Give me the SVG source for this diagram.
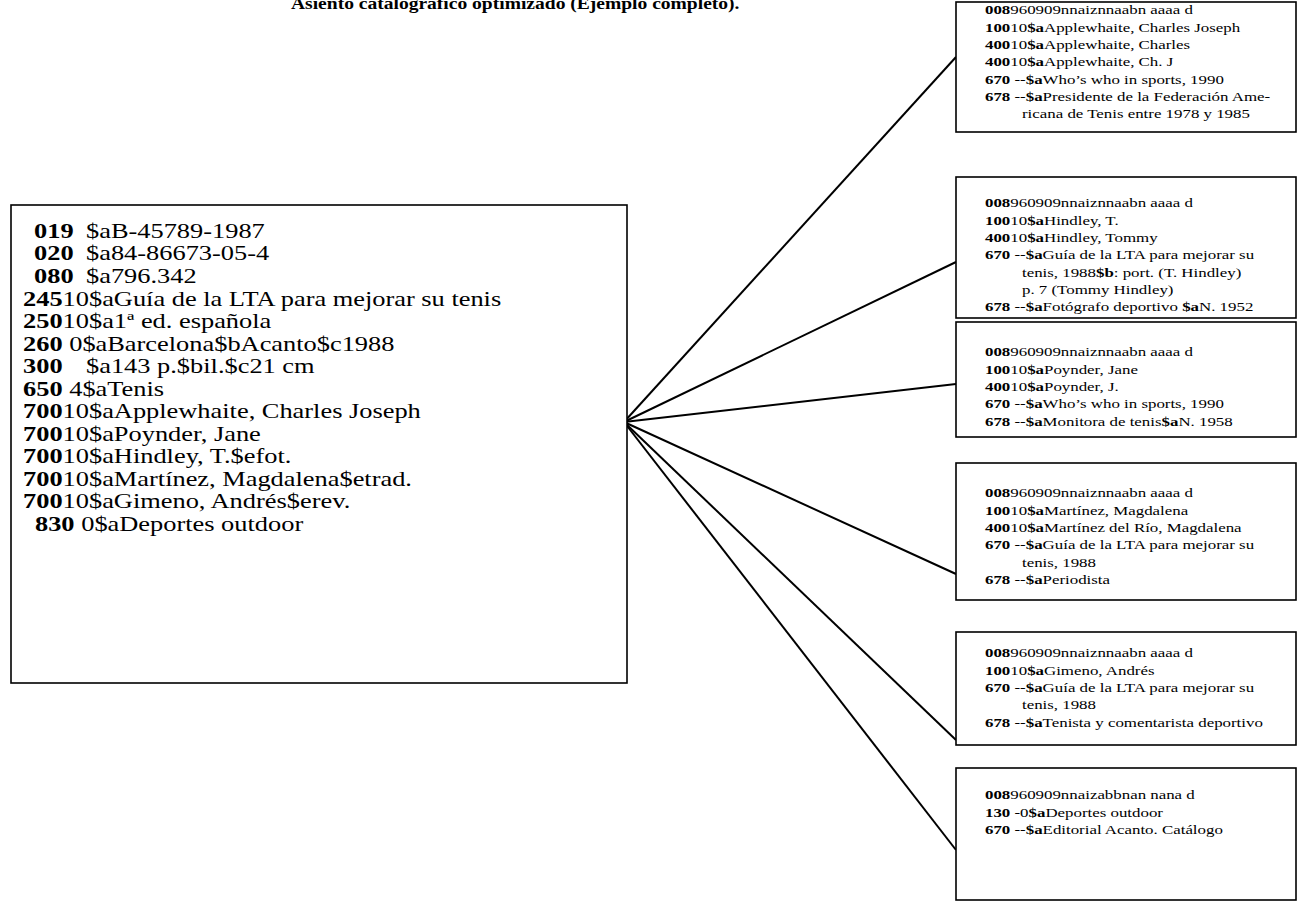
<svg xmlns="http://www.w3.org/2000/svg" width="1300" height="916" viewBox="0 0 1300 916">
<style>
text{font-family:"Liberation Serif","Times New Roman",serif;fill:#000}
.l{font-size:22px}
.r{font-size:13.5px}
.b{font-weight:bold}
.t{font-size:17px;font-weight:bold}
.box{fill:#fff;stroke:#000;stroke-width:1.6}
.c{stroke:#000;stroke-width:2;fill:none}
</style>
<rect width="1300" height="916" fill="#fff"/>
<g transform="translate(291,0) scale(1.15,1)"><text class="t" x="0" y="9">Asiento catalográfico optimizado (Ejemplo completo).</text></g>
<g id="connectors">
<line class="c" x1="624" y1="422" x2="956" y2="57"/>
<line class="c" x1="624" y1="422" x2="956" y2="262"/>
<line class="c" x1="624" y1="422" x2="956" y2="384"/>
<line class="c" x1="624" y1="422" x2="956" y2="574"/>
<line class="c" x1="624" y1="422" x2="956" y2="740"/>
<line class="c" x1="624" y1="422" x2="956" y2="850"/>
</g>
<g id="main">
<rect class="box" x="11" y="205" width="616" height="478"/>
<g transform="translate(23,0) scale(1.2,1)">
<text class="l" y="238"><tspan class="b" x="9.2">019</tspan><tspan x="52.5">$aB-45789-1987</tspan></text>
<text class="l" y="260.5"><tspan class="b" x="9.2">020</tspan><tspan x="52.5">$a84-86673-05-4</tspan></text>
<text class="l" y="283"><tspan class="b" x="9.2">080</tspan><tspan x="52.5">$a796.342</tspan></text>
<text class="l" x="0" y="305.6"><tspan class="b">245</tspan>10$aGuía de la LTA para mejorar su tenis</text>
<text class="l" x="0" y="328.2"><tspan class="b">250</tspan>10$a1ª ed. española</text>
<text class="l" y="350.7"><tspan class="b" x="0">260</tspan><tspan x="38.5">0$aBarcelona$bAcanto$c1988</tspan></text>
<text class="l" y="373.2"><tspan class="b" x="0">300</tspan><tspan x="52.5">$a143 p.$bil.$c21 cm</tspan></text>
<text class="l" y="395.8"><tspan class="b" x="0">650</tspan><tspan x="38.5">4$aTenis</tspan></text>
<text class="l" x="0" y="418.3"><tspan class="b">700</tspan>10$aApplewhaite, Charles Joseph</text>
<text class="l" x="0" y="440.9"><tspan class="b">700</tspan>10$aPoynder, Jane</text>
<text class="l" x="0" y="463.4"><tspan class="b">700</tspan>10$aHindley, T.$efot.</text>
<text class="l" x="0" y="486"><tspan class="b">700</tspan>10$aMartínez, Magdalena$etrad.</text>
<text class="l" x="0" y="508.5"><tspan class="b">700</tspan>10$aGimeno, Andrés$erev.</text>
<text class="l" y="531"><tspan class="b" x="10">830</tspan><tspan x="48.5">0$aDeportes outdoor</tspan></text>
</g>
</g>
<g id="auth1">
<rect class="box" x="956" y="2" width="340" height="130"/>
<g transform="translate(985,0) scale(1.25,1)">
<text class="r" x="0" y="14.5"><tspan class="b">008</tspan>960909nnaiznnaabn aaaa d</text>
<text class="r" x="0" y="31.8"><tspan class="b">100</tspan>10<tspan class="b">$a</tspan>Applewhaite, Charles Joseph</text>
<text class="r" x="0" y="49.1"><tspan class="b">400</tspan>10<tspan class="b">$a</tspan>Applewhaite, Charles</text>
<text class="r" x="0" y="66.4"><tspan class="b">400</tspan>10<tspan class="b">$a</tspan>Applewhaite, Ch. J</text>
<text class="r" x="0" y="83.7"><tspan class="b">670</tspan> --<tspan class="b">$a</tspan>Who’s who in sports, 1990</text>
<text class="r" x="0" y="101"><tspan class="b">678</tspan> --<tspan class="b">$a</tspan>Presidente de la Federación Ame-</text>
<text class="r" x="29.6" y="118.3">ricana de Tenis entre 1978 y 1985</text>
</g>
</g>
<g id="auth2">
<rect class="box" x="956" y="177" width="340" height="141"/>
<g transform="translate(985,0) scale(1.25,1)">
<text class="r" x="0" y="207.5"><tspan class="b">008</tspan>960909nnaiznnaabn aaaa d</text>
<text class="r" x="0" y="224.8"><tspan class="b">100</tspan>10<tspan class="b">$a</tspan>Hindley, T.</text>
<text class="r" x="0" y="242.1"><tspan class="b">400</tspan>10<tspan class="b">$a</tspan>Hindley, Tommy</text>
<text class="r" x="0" y="259.4"><tspan class="b">670</tspan> --<tspan class="b">$a</tspan>Guía de la LTA para mejorar su</text>
<text class="r" x="29.6" y="276.7">tenis, 1988<tspan class="b">$b</tspan>: port. (T. Hindley)</text>
<text class="r" x="29.6" y="294">p. 7 (Tommy Hindley)</text>
<text class="r" x="0" y="311.3"><tspan class="b">678</tspan> --<tspan class="b">$a</tspan>Fotógrafo deportivo <tspan class="b">$a</tspan>N. 1952</text>
</g>
</g>
<g id="auth3">
<rect class="box" x="956" y="322" width="340" height="115"/>
<g transform="translate(985,0) scale(1.25,1)">
<text class="r" x="0" y="356.5"><tspan class="b">008</tspan>960909nnaiznnaabn aaaa d</text>
<text class="r" x="0" y="373.8"><tspan class="b">100</tspan>10<tspan class="b">$a</tspan>Poynder, Jane</text>
<text class="r" x="0" y="391.1"><tspan class="b">400</tspan>10<tspan class="b">$a</tspan>Poynder, J.</text>
<text class="r" x="0" y="408.4"><tspan class="b">670</tspan> --<tspan class="b">$a</tspan>Who’s who in sports, 1990</text>
<text class="r" x="0" y="425.7"><tspan class="b">678</tspan> --<tspan class="b">$a</tspan>Monitora de tenis<tspan class="b">$a</tspan>N. 1958</text>
</g>
</g>
<g id="auth4">
<rect class="box" x="956" y="463" width="340" height="137"/>
<g transform="translate(985,0) scale(1.25,1)">
<text class="r" x="0" y="497.5"><tspan class="b">008</tspan>960909nnaiznnaabn aaaa d</text>
<text class="r" x="0" y="514.8"><tspan class="b">100</tspan>10<tspan class="b">$a</tspan>Martínez, Magdalena</text>
<text class="r" x="0" y="532.1"><tspan class="b">400</tspan>10<tspan class="b">$a</tspan>Martínez del Río, Magdalena</text>
<text class="r" x="0" y="549.4"><tspan class="b">670</tspan> --<tspan class="b">$a</tspan>Guía de la LTA para mejorar su</text>
<text class="r" x="29.6" y="566.7">tenis, 1988</text>
<text class="r" x="0" y="584"><tspan class="b">678</tspan> --<tspan class="b">$a</tspan>Periodista</text>
</g>
</g>
<g id="auth5">
<rect class="box" x="956" y="632" width="340" height="113"/>
<g transform="translate(985,0) scale(1.25,1)">
<text class="r" x="0" y="657.5"><tspan class="b">008</tspan>960909nnaiznnaabn aaaa d</text>
<text class="r" x="0" y="674.8"><tspan class="b">100</tspan>10<tspan class="b">$a</tspan>Gimeno, Andrés</text>
<text class="r" x="0" y="692.1"><tspan class="b">670</tspan> --<tspan class="b">$a</tspan>Guía de la LTA para mejorar su</text>
<text class="r" x="29.6" y="709.4">tenis, 1988</text>
<text class="r" x="0" y="726.7"><tspan class="b">678</tspan> --<tspan class="b">$a</tspan>Tenista y comentarista deportivo</text>
</g>
</g>
<g id="auth6">
<rect class="box" x="956" y="768" width="340" height="132"/>
<g transform="translate(985,0) scale(1.25,1)">
<text class="r" x="0" y="799.5"><tspan class="b">008</tspan>960909nnaizabbnan  nana d</text>
<text class="r" x="0" y="816.8"><tspan class="b">130</tspan> -0<tspan class="b">$a</tspan>Deportes outdoor</text>
<text class="r" x="0" y="834.1"><tspan class="b">670</tspan> --<tspan class="b">$a</tspan>Editorial Acanto. Catálogo</text>
</g>
</g>
</svg>
